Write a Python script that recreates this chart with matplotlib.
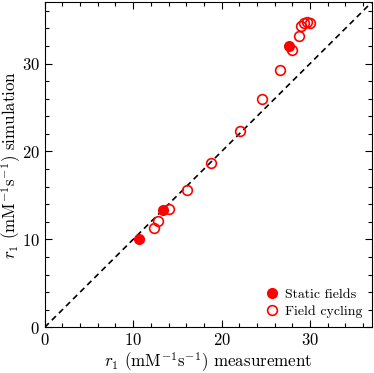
import matplotlib
matplotlib.use("Agg")
import matplotlib.pyplot as plt
from matplotlib.ticker import MultipleLocator

plt.rcParams['font.family'] = 'serif'
plt.rcParams['font.serif'] = ['cmr10']
plt.rcParams['mathtext.fontset'] = 'cm'
plt.rcParams['axes.formatter.use_mathtext'] = True

static_x = [10.7, 13.4, 27.6]
static_y = [10.1, 13.3, 32.0]
cycling_x = [12.3, 12.8, 14.1, 16.1, 18.8, 22.1, 24.6, 26.6, 28.0, 28.8, 29.0, 29.3, 29.7, 30.0]
cycling_y = [11.3, 12.1, 13.4, 15.6, 18.7, 22.3, 26.0, 29.3, 31.5, 33.1, 34.3, 34.6, 34.7, 34.6]
lim = 37

fig = plt.figure(figsize=(3.74, 3.73), dpi=100)
ax = fig.add_axes([44.7/374, (373-327.3)/373, 327.3/374, 325.3/373])

ax.plot([0, lim], [0, lim], color='black', ls=(0, (3.5, 2.5)), lw=1.2, zorder=1)
ax.plot(static_x, static_y, 'o', color='red', ms=7, label='Static fields', zorder=2)
ax.plot(cycling_x, cycling_y, 'o', mfc='none', mec='red', mew=1.2, ms=7, label='Field cycling', zorder=3)

ax.set_xlim(0, lim)
ax.set_ylim(0, lim)
ax.xaxis.set_major_locator(MultipleLocator(10))
ax.yaxis.set_major_locator(MultipleLocator(10))
ax.xaxis.set_minor_locator(MultipleLocator(2))
ax.yaxis.set_minor_locator(MultipleLocator(2))
ax.tick_params(which='both', direction='in', top=True, right=True, labelsize=12)
ax.tick_params(which='major', length=5, width=0.8)
ax.tick_params(which='minor', length=3, width=0.8)
for s in ax.spines.values():
    s.set_linewidth(0.8)

ax.set_xlabel(r'$r_1$ (mM$^{-1}$s$^{-1}$) measurement', fontsize=12.2)
ax.set_ylabel(r'$r_1$ (mM$^{-1}$s$^{-1}$) simulation', fontsize=12.2)
ax.xaxis.set_label_coords(0.5, -0.072)
ax.yaxis.set_label_coords(-0.066, 0.5)

ax.legend(loc='lower right', frameon=False, fontsize=10, handletextpad=0.3,
          borderaxespad=0.3, labelspacing=0.3, handlelength=1.2)

fig.savefig('out.png', dpi=100)
